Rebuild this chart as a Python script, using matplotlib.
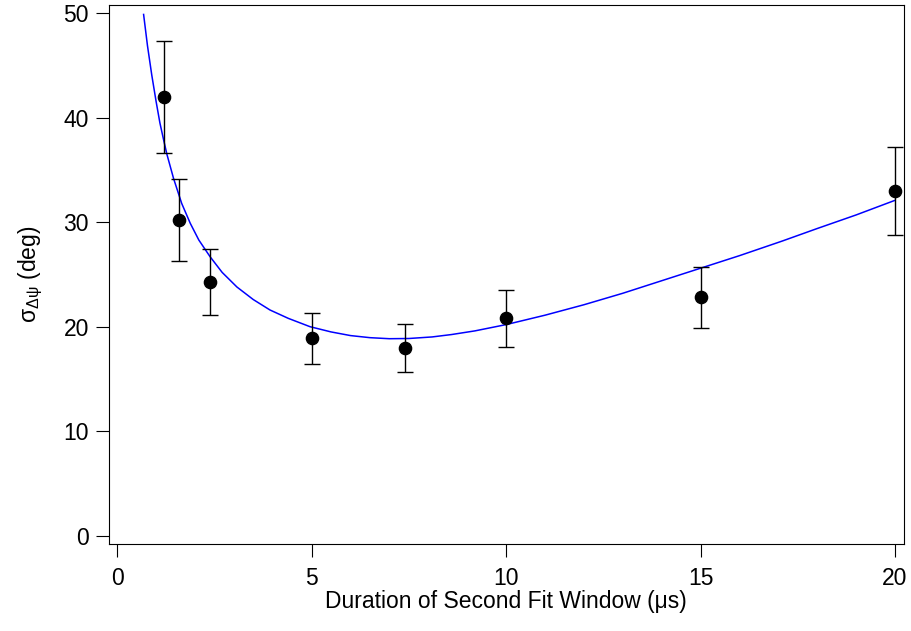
import numpy as np
import matplotlib
matplotlib.use("Agg")
import matplotlib.pyplot as plt

# ------------------- DATA -------------------
# measured points (duration in us, sigma in deg, error bar half-height)
duration = [1.2, 1.6, 2.4, 5.0, 7.4, 10.0, 15.0, 20.0]
sigma = [42.0, 30.2, 24.3, 18.9, 18.0, 20.8, 22.8, 33.0]
sigma_err = [5.4, 3.9, 3.15, 2.45, 2.3, 2.7, 2.9, 4.25]

# fit curve
fit_x = [0.68, 0.78, 0.89, 1.0, 1.1, 1.2, 1.28, 1.45, 1.66, 1.88, 2.1, 2.39,
         2.7, 3.08, 3.5, 3.93, 4.4, 4.96, 5.5, 6.0, 6.5, 7.0, 7.5, 8.1, 8.6,
         9.2, 10.0, 11.0, 12.0, 13.0, 14.0, 15.0, 16.0, 17.1, 18.0, 19.0, 20.0]
fit_y = [49.9, 46.9, 44.1, 41.6, 39.5, 37.8, 36.5, 34.2, 31.8, 29.9, 28.3, 26.7,
         25.2, 23.8, 22.6, 21.6, 20.8, 20.0, 19.5, 19.15, 18.95, 18.85, 18.87, 19.02, 19.25,
         19.6, 20.2, 21.1, 22.1, 23.2, 24.4, 25.6, 26.8, 28.2, 29.4, 30.7, 32.1]

x_ticks = [0, 5, 10, 15, 20]
y_ticks = [0, 10, 20, 30, 40, 50]

# ------------------- PLOT -------------------
plt.rcParams['font.family'] = ['Liberation Sans', 'DejaVu Sans']
plt.rcParams['mathtext.fontset'] = 'custom'
plt.rcParams['mathtext.rm'] = 'Liberation Sans'
plt.rcParams['mathtext.it'] = 'Liberation Sans:italic'

fig = plt.figure(figsize=(9.12, 6.31), dpi=100)
ax = fig.add_axes([0.1195, 0.138, 0.8712, 0.854])

ax.plot(fit_x, fit_y, color=(0, 0, 1), lw=1.1, zorder=2)
ax.errorbar(duration, sigma, yerr=sigma_err, fmt='o', color='black',
            ms=8.8, elinewidth=1.0, capsize=6, capthick=1.0, zorder=3)

ax.set_xlim(-0.21, 20.22)
ax.set_ylim(-0.8, 50.8)
ax.set_xticks(x_ticks)
ax.set_yticks(y_ticks)
ax.tick_params(axis='both', direction='out', length=9.4, width=0.8,
               labelsize=16.5, colors='black')
ax.tick_params(axis='x', pad=7)
ax.tick_params(axis='y', pad=5)
for s in ax.spines.values():
    s.set_linewidth(0.8)

ax.set_xlabel("Duration of Second Fit Window (\u03bcs)", fontsize=16.5, labelpad=0)
ax.set_ylabel("\u03c3$_{\\mathrm{\u0394\u03c8}}$ (deg)", fontsize=16.5, labelpad=13)

fig.savefig("out.png", dpi=100)
